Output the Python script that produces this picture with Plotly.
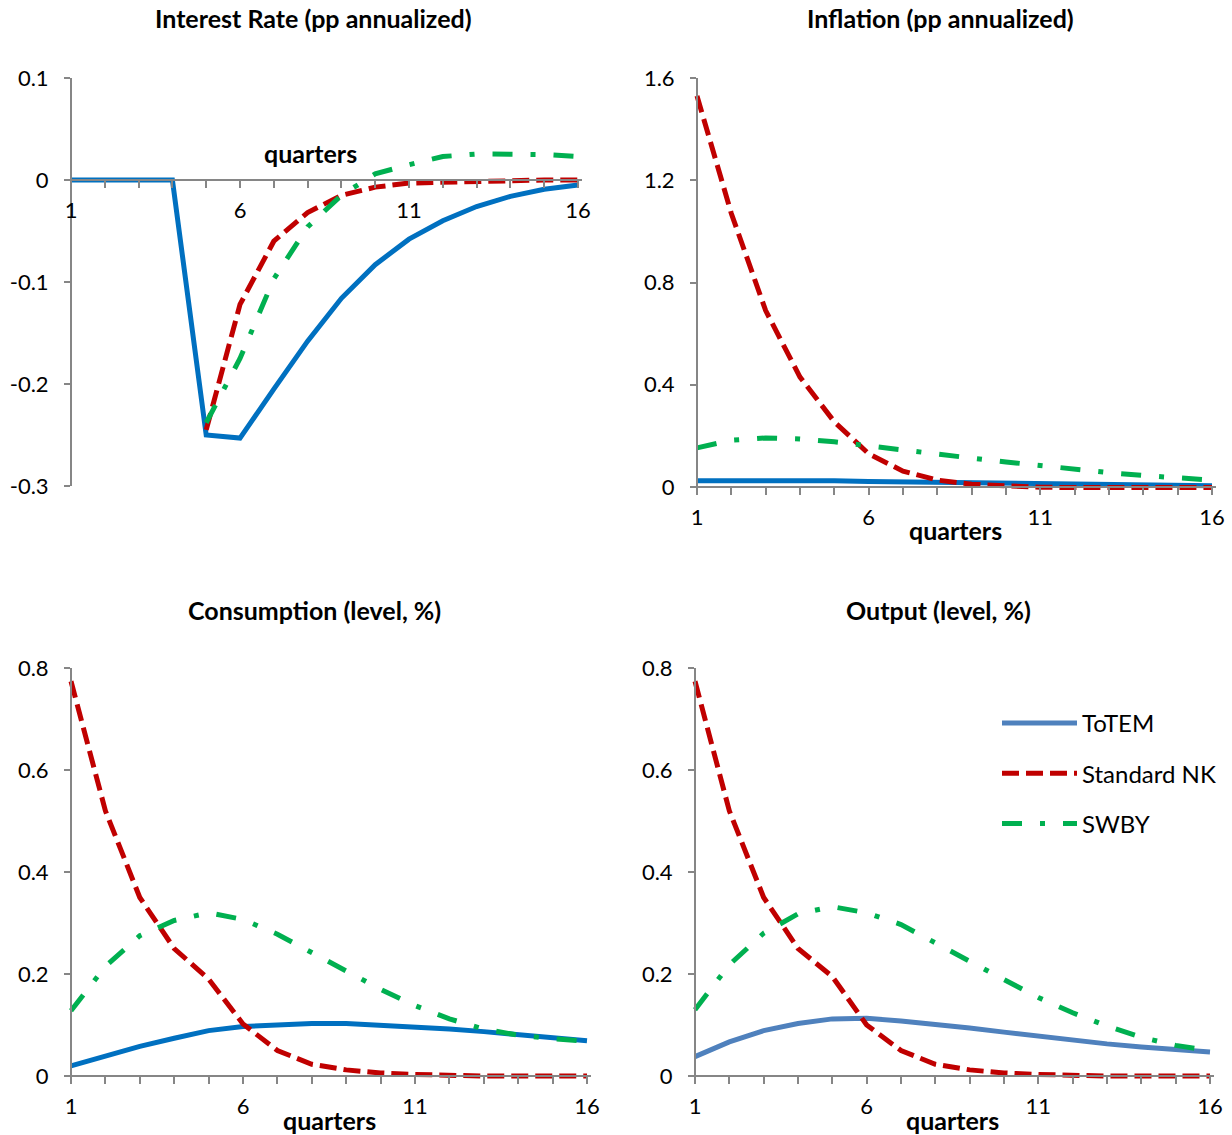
import plotly.graph_objects as go

# ---------------- data ----------------
quarters = list(range(1, 17))
x_tick_text = ["1", "", "", "", "", "6", "", "", "", "", "11", "", "", "", "", "16"]

series_names = ["ToTEM", "Standard NK", "SWBY"]

# Interest Rate (pp annualized)
rate_totem = [0, 0, 0, 0, -0.250, -0.253, -0.205, -0.158, -0.116, -0.083, -0.058, -0.040, -0.026, -0.016, -0.009, -0.005]
rate_nk = [None, None, None, None, -0.245, -0.122, -0.060, -0.032, -0.015, -0.007, -0.003, -0.002, -0.001, -0.001, 0.0, 0.0]
rate_swby = [None, None, None, None, -0.238, -0.175, -0.097, -0.046, -0.015, 0.006, 0.015, 0.023, 0.0255, 0.0255, 0.025, 0.023]

# Inflation (pp annualized)
infl_totem = [0.024, 0.025, 0.025, 0.025, 0.024, 0.022, 0.020, 0.018, 0.016, 0.014, 0.012, 0.010, 0.009, 0.007, 0.006, 0.005]
infl_nk = [1.53, 1.07, 0.69, 0.43, 0.255, 0.13, 0.062, 0.027, 0.011, 0.003, -0.001, -0.002, -0.003, -0.003, -0.003, -0.002]
infl_swby = [0.153, 0.183, 0.192, 0.188, 0.177, 0.160, 0.144, 0.128, 0.113, 0.098, 0.083, 0.069, 0.056, 0.045, 0.036, 0.027]

# Consumption (level, %)
cons_totem = [0.020, 0.040, 0.058, 0.074, 0.089, 0.097, 0.101, 0.103, 0.103, 0.100, 0.097, 0.092, 0.087, 0.081, 0.075, 0.069]
cons_nk = [0.774, 0.52, 0.35, 0.25, 0.19, 0.102, 0.05, 0.023, 0.012, 0.006, 0.003, 0.001, 0.0, 0.0, 0.0, 0.0]
cons_swby = [0.128, 0.215, 0.275, 0.305, 0.320, 0.307, 0.278, 0.242, 0.206, 0.170, 0.138, 0.112, 0.092, 0.080, 0.073, 0.068]

# Output (level, %)
out_totem = [0.038, 0.067, 0.089, 0.103, 0.112, 0.113, 0.108, 0.102, 0.094, 0.086, 0.078, 0.070, 0.063, 0.057, 0.052, 0.047]
out_nk = [0.774, 0.52, 0.35, 0.25, 0.195, 0.10, 0.05, 0.023, 0.012, 0.006, 0.003, 0.001, 0.0, 0.0, 0.0, 0.0]
out_swby = [0.130, 0.218, 0.280, 0.318, 0.332, 0.320, 0.297, 0.262, 0.225, 0.189, 0.154, 0.124, 0.098, 0.076, 0.060, 0.050]

panel_titles = ["Interest Rate (pp annualized)", "Inflation (pp annualized)",
                "Consumption (level, %)", "Output (level, %)"]

rate_ticks = [0.1, 0, -0.1, -0.2, -0.3]
rate_tick_text = ["0.1", "0", "-0.1", "-0.2", "-0.3"]
infl_ticks = [0, 0.4, 0.8, 1.2, 1.6]
infl_tick_text = ["0", "0.4", "0.8", "1.2", "1.6"]
level_ticks = [0, 0.2, 0.4, 0.6, 0.8]
level_tick_text = ["0", "0.2", "0.4", "0.6", "0.8"]

# ---------------- styling / layout ----------------
W, H = 1232, 1135
FONT = "Lato"
AXIS_GREY = "#868686"
BLUE = "#0070C0"
BLUE_LIGHT = "#4F81BD"
RED = "#C00000"
GREEN = "#00B050"
NK_DASH = "17px,7px"
SWBY_DASH = "20px,18px,5px,18px"

panels = [
    dict(data=(rate_totem, rate_nk, rate_swby), blue=BLUE, x1=71, x16=578, ytop=78, ybot=486,
         ymin=-0.3, ymax=0.1, ticks=rate_ticks, ticktext=rate_tick_text, pad_b=0,
         title_xy=(313, 18), q_xy=(310, 153)),
    dict(data=(infl_totem, infl_nk, infl_swby), blue=BLUE, x1=697, x16=1212, ytop=78, ybot=487,
         ymin=0, ymax=1.6, ticks=infl_ticks, ticktext=infl_tick_text, pad_b=4,
         title_xy=(940, 18), q_xy=(955, 530)),
    dict(data=(cons_totem, cons_nk, cons_swby), blue=BLUE, x1=71, x16=587, ytop=668, ybot=1076,
         ymin=0, ymax=0.8, ticks=level_ticks, ticktext=level_tick_text, pad_b=4,
         title_xy=(314, 610), q_xy=(329, 1120)),
    dict(data=(out_totem, out_nk, out_swby), blue=BLUE_LIGHT, x1=695, x16=1210, ytop=668, ybot=1076,
         ymin=0, ymax=0.8, ticks=level_ticks, ticktext=level_tick_text, pad_b=4,
         title_xy=(938, 610), q_xy=(952, 1120)),
]

fig = go.Figure()
annotations = []
PADX = 4

for i, p in enumerate(panels):
    n = "" if i == 0 else str(i + 1)
    xa, ya = "x" + n, "y" + n
    ppq = (p["x16"] - p["x1"]) / 15.0
    ppy = (p["ybot"] - p["ytop"]) / (p["ymax"] - p["ymin"])
    xrange_ = [1 - PADX / ppq, 16 + PADX / ppq]
    xdom = [(p["x1"] - PADX) / W, (p["x16"] + PADX) / W]
    yrange_ = [p["ymin"] - p["pad_b"] / ppy, p["ymax"]]
    ydom = [1 - (p["ybot"] + p["pad_b"]) / H, 1 - p["ytop"] / H]
    cross_px = p["ybot"] - (0 - p["ymin"]) * ppy

    totem, nk, swby = p["data"]
    show = (i == 3)
    fig.add_trace(go.Scatter(x=quarters, y=totem, name=series_names[0], mode="lines",
                             line=dict(color=p["blue"], width=5), xaxis=xa, yaxis=ya,
                             showlegend=show, legendgroup="a"))
    fig.add_trace(go.Scatter(x=quarters, y=nk, name=series_names[1], mode="lines",
                             line=dict(color=RED, width=5, dash=NK_DASH), xaxis=xa, yaxis=ya,
                             showlegend=show, legendgroup="b"))
    fig.add_trace(go.Scatter(x=quarters, y=swby, name=series_names[2], mode="lines",
                             line=dict(color=GREEN, width=5, dash=SWBY_DASH), xaxis=xa, yaxis=ya,
                             showlegend=show, legendgroup="c"))

    fig.layout["xaxis" + n] = dict(
        domain=xdom, range=xrange_, anchor="free", position=1 - cross_px / H,
        automargin=False,
        showline=True, linecolor=AXIS_GREY, linewidth=2, showgrid=False, zeroline=False,
        tickmode="array", tickvals=quarters, ticktext=x_tick_text,
        ticks="outside", ticklen=7, tickwidth=2, tickcolor=AXIS_GREY,
        ticklabelstandoff=4, tickfont=dict(family=FONT, size=22, color="black"),
        fixedrange=True,
    )
    fig.layout["yaxis" + n] = dict(
        domain=ydom, range=yrange_, anchor="free", position=p["x1"] / W,
        automargin=False,
        showline=True, linecolor=AXIS_GREY, linewidth=2, showgrid=False, zeroline=False,
        tickmode="array", tickvals=p["ticks"], ticktext=p["ticktext"],
        ticks="outside", ticklen=6, tickwidth=2, tickcolor=AXIS_GREY,
        ticklabelstandoff=11, tickfont=dict(family=FONT, size=22, color="black"),
        fixedrange=True,
    )
    tx, ty = p["title_xy"]
    annotations.append(dict(text="<b>" + panel_titles[i] + "</b>", x=tx / W, y=1 - ty / H,
                            xref="paper", yref="paper", showarrow=False,
                            xanchor="center", yanchor="middle",
                            font=dict(family=FONT, size=25, color="black")))
    qx, qy = p["q_xy"]
    annotations.append(dict(text="<b>quarters</b>", x=qx / W, y=1 - qy / H,
                            xref="paper", yref="paper", showarrow=False,
                            xanchor="center", yanchor="middle",
                            font=dict(family=FONT, size=25, color="black")))

fig.update_layout(
    width=W, height=H, autosize=False,
    margin=dict(l=0, r=0, t=0, b=0, pad=0, autoexpand=False),
    paper_bgcolor="white", plot_bgcolor="white",
    annotations=annotations,
    font=dict(family=FONT, color="black"),
    legend=dict(x=997 / W, y=1 - 701 / H, xanchor="left", yanchor="top",
                font=dict(family=FONT, size=24, color="black"),
                bgcolor="rgba(0,0,0,0)", itemwidth=75, tracegroupgap=16,
                itemclick=False, itemdoubleclick=False),
    showlegend=True,
)

fig.write_html("out.html")
